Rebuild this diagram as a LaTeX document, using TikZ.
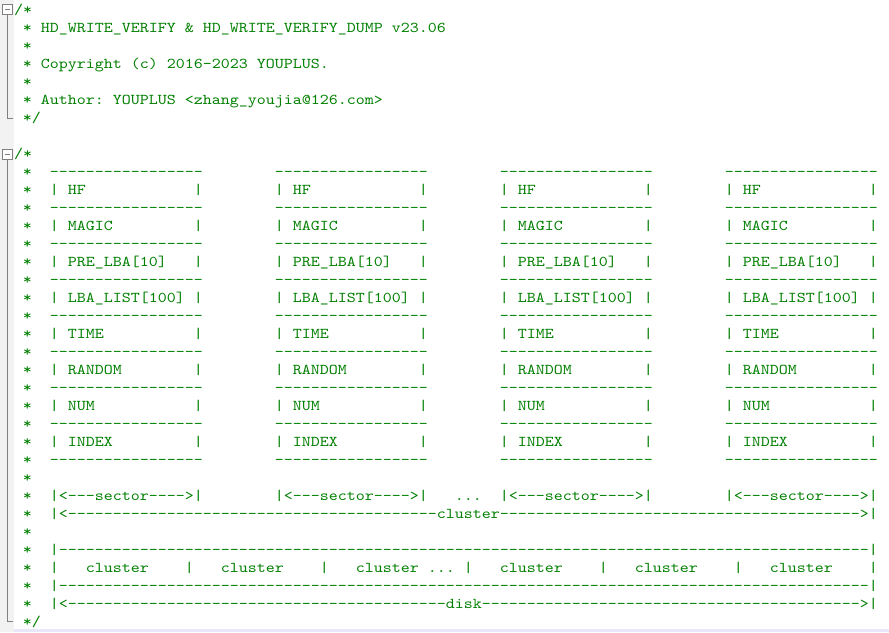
\documentclass[tikz,border=0pt]{standalone}
\usepackage{fontspec}
\newfontfamily\codefont{lmmono10-regular}[Extension=.otf, FakeStretch=1.142857]
\ExplSyntaxOn
\cs_new:Npn \myrep #1#2 { \prg_replicate:nn {#1} {#2} }
\ExplSyntaxOff
\newcommand\dsh[1]{\myrep{#1}{-\kern0pt}}
\newcommand\sps[1]{\myrep{#1}{\ }}
\newcommand\codesetup{\codefont\fontsize{15}{18}\selectfont\frenchspacing\spaceskip=9pt\relax\xspaceskip=9pt\relax}
\newcommand\dashrow{*\sps{2}\dsh{17}\sps{8}\dsh{17}\sps{8}\dsh{17}\sps{8}\dsh{17}}
\newcommand\boxrow[2]{*\sps{2}|\ #1\sps{#2}|\sps{8}|\ #1\sps{#2}|\sps{8}|\ #1\sps{#2}|\sps{8}|\ #1\sps{#2}|}
\newcommand\sect{|<\dsh{3}sector\dsh{4}>|}
\newcommand\clu{\sps{3}cluster\sps{4}}
\newcommand\codeline[4]{\node[codetxt] (#1) at ({14+9*#3},{14.5+18*(#2-1)}) {#4};}
\definecolor{codegreen}{RGB}{0,128,0}
\definecolor{foldgray}{RGB}{128,128,128}
\definecolor{margingray}{RGB}{242,242,242}
\definecolor{lavender}{RGB}{232,232,250}
\tikzset{
  codetxt/.style={anchor=base west, inner sep=0pt, outer sep=0pt, text=codegreen,
    font=\codesetup},
  foldline/.style={draw=foldgray, line width=1pt},
}
\begin{document}
\begin{tikzpicture}[x=1pt,y=-1pt]
\useasboundingbox (0,0) rectangle (889,632);
\fill[white] (0,0) rectangle (889,632);
\fill[margingray] (0,0) rectangle (14,632);
\fill[lavender] (14,629) rectangle (889,632);
% fold markers
\draw[foldline] (7.5,14.5) -- (7.5,118.5) -- (13,118.5);
\draw[foldline, fill=white] (2.5,4.5) rectangle (12.5,14.5);
\draw[foldline] (5,9.5) -- (10,9.5);
\draw[foldline] (7.5,159.5) -- (7.5,621.5) -- (13,621.5);
\draw[foldline, fill=white] (2.5,149.5) rectangle (12.5,159.5);
\draw[foldline] (5,154.5) -- (10,154.5);
% header comment
\codeline{l1}{1}{0}{/*}
\codeline{l2}{2}{1}{* HD\_WRITE\_VERIFY \& HD\_WRITE\_VERIFY\_DUMP v23.06}
\codeline{l3}{3}{1}{*}
\codeline{l4}{4}{1}{* Copyright (c) 2016\dsh{1}2023 YOUPLUS.}
\codeline{l5}{5}{1}{*}
\codeline{l6}{6}{1}{* Author: YOUPLUS <zhang\_youjia@126.com>}
\codeline{l7}{7}{1}{*/}
% diagram comment
\codeline{l9}{9}{0}{/*}
\codeline{l10}{10}{1}{\dashrow}
\codeline{l11}{11}{1}{\boxrow{HF}{12}}
\codeline{l12}{12}{1}{\dashrow}
\codeline{l13}{13}{1}{\boxrow{MAGIC}{9}}
\codeline{l14}{14}{1}{\dashrow}
\codeline{l15}{15}{1}{\boxrow{PRE\_LBA[10]}{3}}
\codeline{l16}{16}{1}{\dashrow}
\codeline{l17}{17}{1}{\boxrow{LBA\_LIST[100]}{1}}
\codeline{l18}{18}{1}{\dashrow}
\codeline{l19}{19}{1}{\boxrow{TIME}{10}}
\codeline{l20}{20}{1}{\dashrow}
\codeline{l21}{21}{1}{\boxrow{RANDOM}{8}}
\codeline{l22}{22}{1}{\dashrow}
\codeline{l23}{23}{1}{\boxrow{NUM}{11}}
\codeline{l24}{24}{1}{\dashrow}
\codeline{l25}{25}{1}{\boxrow{INDEX}{9}}
\codeline{l26}{26}{1}{\dashrow}
\codeline{l27}{27}{1}{*}
\codeline{l28}{28}{1}{*\sps{2}\sect\sps{8}\sect\sps{3}...\sps{2}\sect\sps{8}\sect}
\codeline{l29}{29}{1}{*\sps{2}|<\dsh{41}cluster\dsh{40}>|}
\codeline{l30}{30}{1}{*}
\codeline{l31}{31}{1}{*\sps{2}|\dsh{90}|}
\codeline{l32}{32}{1}{*\sps{2}|\clu|\clu|\sps{3}cluster ...\sps{1}|\clu|\clu|\clu|}
\codeline{l33}{33}{1}{*\sps{2}|\dsh{90}|}
\codeline{l34}{34}{1}{*\sps{2}|<\dsh{42}disk\dsh{42}>|}
\codeline{l35}{35}{1}{*/}
\end{tikzpicture}
\end{document}
